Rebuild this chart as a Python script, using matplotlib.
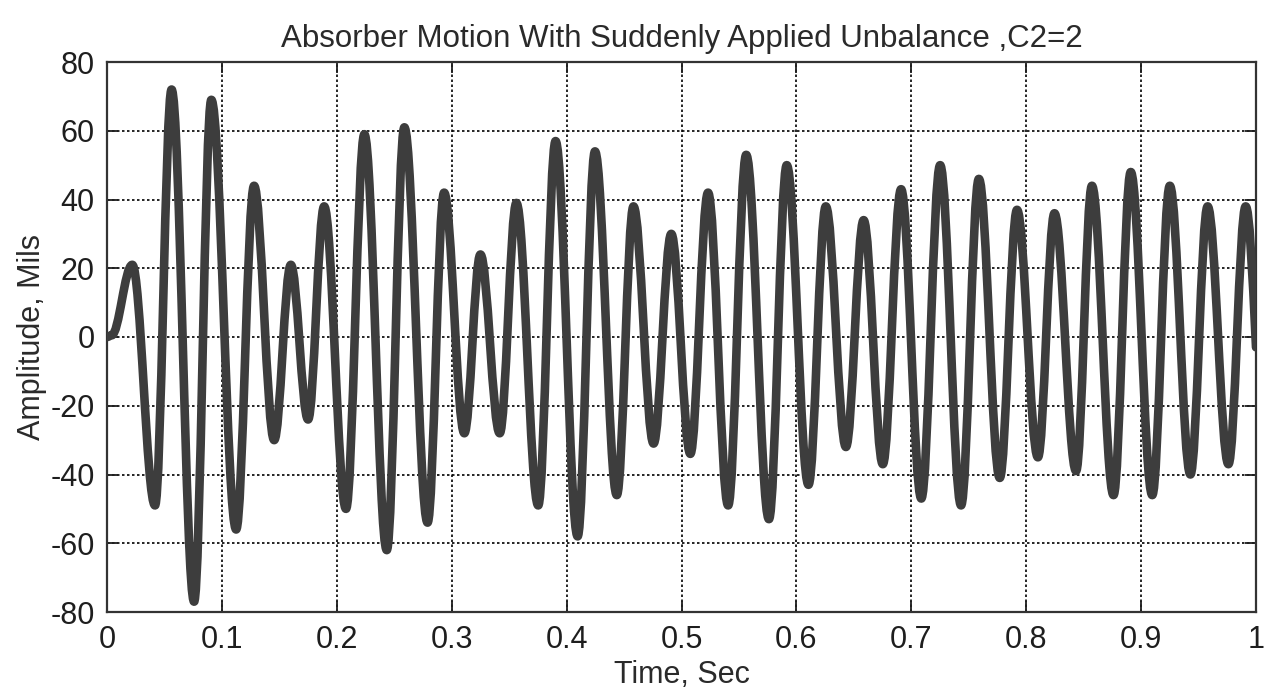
import numpy as np
import matplotlib
matplotlib.use("Agg")
import matplotlib.pyplot as plt
from matplotlib.path import Path
from matplotlib.patches import PathPatch

# Extrema of the response (time in s, amplitude in mils)
time_pts = [0.0, 0.004, 0.022, 0.0418, 0.0562, 0.0758, 0.0908, 0.1124, 0.128, 0.1455,
            0.160, 0.175, 0.189, 0.208, 0.224, 0.2435, 0.2588, 0.279, 0.2934, 0.311,
            0.325, 0.3418, 0.3563, 0.3753, 0.3904, 0.4096, 0.4247, 0.4437, 0.4582, 0.4757,
            0.4911, 0.5077, 0.5231, 0.5406, 0.5563, 0.5761, 0.5916, 0.6105, 0.6256, 0.6431,
            0.6585, 0.6752, 0.6911, 0.7087, 0.7251, 0.7433, 0.7588, 0.777, 0.792, 0.8102,
            0.8246, 0.8434, 0.8572, 0.876, 0.891, 0.9097, 0.925, 0.9429, 0.9579, 0.976,
            0.991, 1.0]
amp_pts = [0, 0.5, 21, -49, 72, -77, 69, -56, 44, -30,
           21, -24, 38, -50, 59, -62, 61, -54, 42, -28,
           24, -28, 39, -49, 57, -58, 54, -46, 38, -31,
           30, -34, 42, -49, 53, -53, 50, -43, 38, -32,
           34, -37, 43, -47, 50, -49, 46, -41, 37, -35,
           36, -39, 44, -46, 48, -46, 44, -40, 38, -37,
           38, -3]

x_ticks = [0, 0.1, 0.2, 0.3, 0.4, 0.5, 0.6, 0.7, 0.8, 0.9, 1]
x_labels = ["0", "0.1", "0.2", "0.3", "0.4", "0.5", "0.6", "0.7", "0.8", "0.9", "1"]
y_ticks = [-80, -60, -40, -20, 0, 20, 40, 60, 80]
y_labels = ["-80", "-60", "-40", "-20", "0", "20", "40", "60", "80"]

title = "Absorber Motion With Suddenly Applied Unbalance ,C2=2"
xlabel = "Time, Sec"
ylabel = "Amplitude, Mils"

plt.rcParams['font.family'] = ['Liberation Sans', 'DejaVu Sans']

fig = plt.figure(figsize=(12.83, 6.98), dpi=100)
ax = fig.add_axes([107/1283, 1 - 612/698, (1256-107)/1283, (612-62)/698])

# smooth curve through the read extrema (horizontal tangent at interior extrema)
t = np.asarray(time_pts, float)
v = np.asarray(amp_pts, float)
slopes = np.zeros_like(v)
slopes[-1] = 1.5 * (v[-1] - v[-2]) / (t[-1] - t[-2])
k = 0.364
verts = [(t[0], v[0])]
codes = [Path.MOVETO]
for i in range(len(t) - 1):
    dt = t[i+1] - t[i]
    verts += [(t[i] + dt*k, v[i] + slopes[i]*dt*k),
              (t[i+1] - dt*k, v[i+1] - slopes[i+1]*dt*k),
              (t[i+1], v[i+1])]
    codes += [Path.CURVE4] * 3
patch = PathPatch(Path(verts, codes), fill=False, edgecolor='#3d3d3d', lw=6.2,
                  capstyle='round', joinstyle='round', zorder=3)
ax.add_patch(patch)

ax.set_xlim(0, 1)
ax.set_ylim(-80, 80)
ax.set_xticks(x_ticks)
ax.set_xticklabels(x_labels)
ax.set_yticks(y_ticks)
ax.set_yticklabels(y_labels)
ax.grid(True, color='black', linestyle=(0, (1.5, 1.5)), linewidth=1.2)
ax.tick_params(direction='in', length=8, width=1.3, top=True, right=True,
               labelsize=22, pad=9, colors='#1e1e1e')
for s in ax.spines.values():
    s.set_linewidth(1.6)
    s.set_color('#333333')

ax.set_title(title, fontsize=22.5, pad=11, color='#2a2a2a')
ax.set_xlabel(xlabel, fontsize=22, labelpad=4, color='#2a2a2a')
ax.set_ylabel(ylabel, fontsize=22, labelpad=2, color='#2a2a2a')

fig.savefig("out.png", dpi=100, facecolor='white')
